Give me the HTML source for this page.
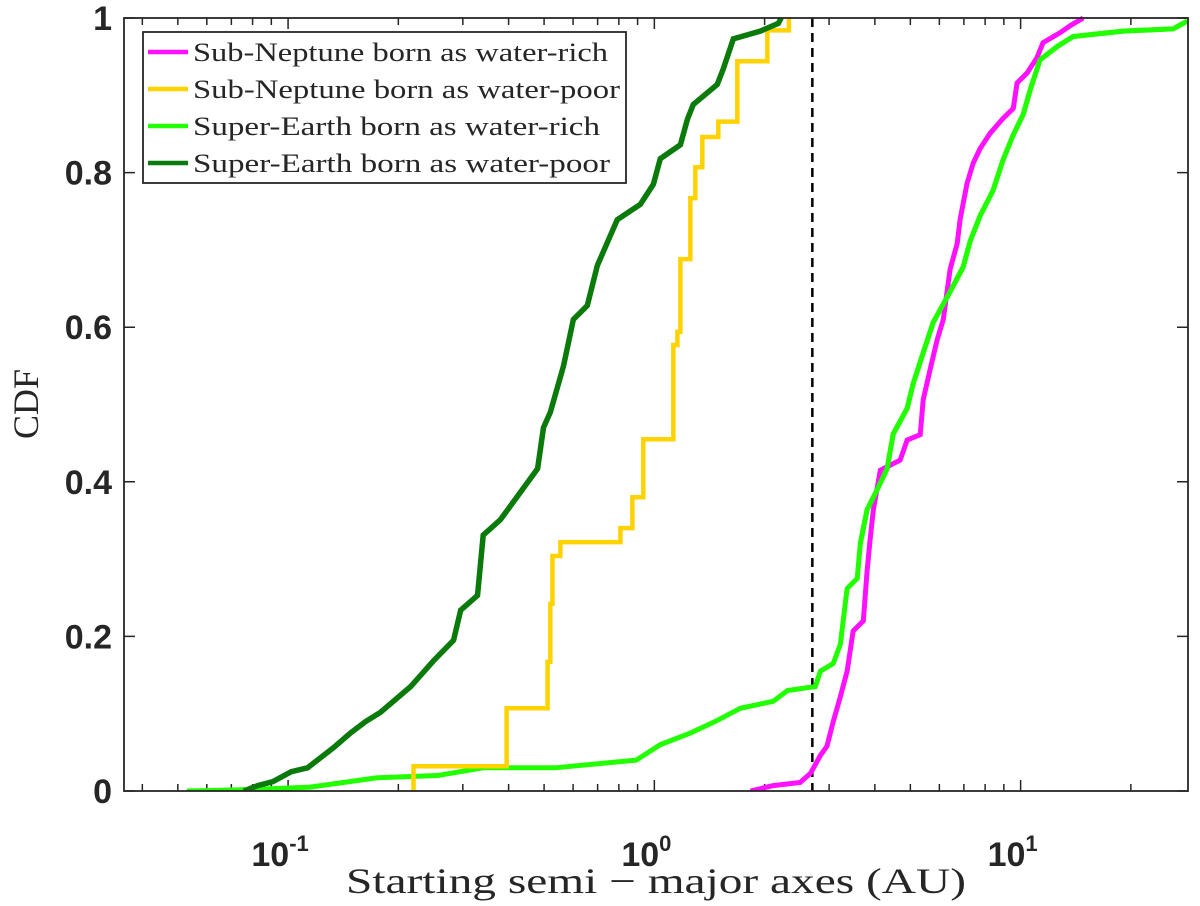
<!DOCTYPE html>
<html><head><meta charset="utf-8"><style>
html,body{margin:0;padding:0;background:#fff;}
svg{display:block;}
.tk{font-family:"Liberation Sans",sans-serif;font-weight:bold;font-size:34px;fill:#262626;}
.serif{font-family:"Liberation Serif",serif;fill:#262626;}
</style></head><body>
<svg id="chart" width="1200" height="906" viewBox="0 0 1200 906">
<g id="plot"></g>
</svg>
<script>
const yTicks=[0,0.2,0.4,0.6,0.8,1];
const yTickLabels=["0","0.2","0.4","0.6","0.8","1"];
const xDecades=[-1,0,1];
const dashX=2.70;
const snRichX=[1.83,2.11,2.50,2.67,2.84,2.96,3.08,3.22,3.36,3.49,3.72,3.81,3.88,3.96,4.14,4.69,4.90,5.32,5.42,5.66,5.92,6.15,6.42,6.71,6.84,7.14,7.42,7.75,8.26,8.95,9.55,9.78,10.42,11.09,11.51,12.82,13.65,14.82];
const snRichY=[0,0.007,0.011,0.023,0.046,0.058,0.09,0.122,0.155,0.207,0.22,0.285,0.324,0.363,0.415,0.428,0.454,0.461,0.506,0.545,0.584,0.61,0.675,0.708,0.74,0.786,0.812,0.831,0.851,0.87,0.883,0.916,0.929,0.949,0.968,0.981,0.99,1.0];
const snPoorX=[0.22,0.395,0.511,0.52,0.527,0.554,0.808,0.871,0.933,1.127,1.156,1.178,1.254,1.294,1.352,1.495,1.685,2.035,2.33];
const snPoorY=[0.032,0.107,0.167,0.242,0.304,0.322,0.34,0.38,0.455,0.577,0.594,0.688,0.767,0.807,0.846,0.866,0.944,0.984,1.0];
const seRichX=[0.0529,0.0805,0.115,0.174,0.256,0.341,0.537,0.893,1.038,1.254,1.467,1.717,2.11,2.31,2.75,2.84,3.08,3.22,3.36,3.58,3.65,3.81,4.06,4.32,4.49,4.90,5.09,5.42,5.77,6.42,6.97,7.28,7.75,8.41,8.95,9.55,10.16,10.62,11.30,12.58,13.91,19.04,26.1,28.5];
const seRichY=[0,0.002,0.005,0.017,0.02,0.03,0.03,0.04,0.06,0.075,0.09,0.107,0.116,0.13,0.135,0.155,0.165,0.19,0.262,0.275,0.32,0.364,0.39,0.417,0.462,0.495,0.527,0.567,0.606,0.646,0.678,0.711,0.744,0.777,0.816,0.849,0.875,0.907,0.946,0.963,0.976,0.983,0.986,0.996];
const sePoorX=[0.0757,0.0826,0.0908,0.102,0.113,0.133,0.148,0.163,0.179,0.216,0.249,0.283,0.296,0.329,0.341,0.380,0.480,0.498,0.520,0.565,0.601,0.656,0.699,0.792,0.916,0.994,1.038,1.178,1.231,1.277,1.485,1.542,1.643,1.946,2.18,2.22];
const sePoorY=[0,0.007,0.012,0.025,0.03,0.056,0.075,0.09,0.102,0.135,0.168,0.195,0.234,0.253,0.331,0.351,0.417,0.47,0.49,0.55,0.61,0.628,0.68,0.739,0.759,0.785,0.818,0.836,0.869,0.888,0.914,0.934,0.973,0.983,0.993,1.0];

const L=124,R=1188,T=18,B=791;
const lxMin=-1.448,lxMax=1.457;
function sx(v){return L+(Math.log10(v)-lxMin)/(lxMax-lxMin)*(R-L);}
function sy(v){return B-v*(B-T);}
const NS="http://www.w3.org/2000/svg";
const g=document.getElementById('plot');
function mk(tag,attrs,parent){const e=document.createElementNS(NS,tag);for(const k in attrs)e.setAttribute(k,attrs[k]);(parent||g).appendChild(e);return e;}

const tg=mk('g',{});


let td='';
for(let d=-2;d<=1;d++){for(let m=1;m<=9;m++){const v=m*Math.pow(10,d);const lv=Math.log10(v);if(lv<lxMin||lv>lxMax)continue;const x=sx(v);const len=m===1?11:7;td+=`M${x},${B}v${-len}M${x},${T}v${len}`;}}
yTicks.forEach(v=>{const y=sy(v);td+=`M${L},${y}h11M${R},${y}h-11`;});
mk('path',{d:td,stroke:'#262626','stroke-width':1.5,fill:'none'},tg);

yTicks.forEach((v,i)=>{const t=mk('text',{x:112,y:sy(v)+12,'text-anchor':'end',class:'tk'});t.textContent=yTickLabels[i];

});
xDecades.forEach(d=>{const x=sx(Math.pow(10,d));const t=mk('text',{x:x-8,y:866,'text-anchor':'middle',class:'tk'});t.textContent='10';const s=mk('tspan',{dy:-15,'font-size':'22px'},t);s.textContent=String(d);

});

const dl=mk('line',{x1:sx(dashX),x2:sx(dashX),y1:T,y2:B,stroke:'#000','stroke-width':2.5,'stroke-dasharray':'9,6'});



function stepPath(xs,ys,x0){let d=`M${sx(x0)},${sy(0)}`;let py=0;xs.forEach((x,i)=>{d+=`L${sx(x)},${sy(py)}L${sx(x)},${sy(ys[i])}`;py=ys[i];});return d;}
function linePath(xs,ys){return xs.map((x,i)=>(i?'L':'M')+sx(x)+','+sy(ys[i])).join('');}
const cs=mk('clipPath',{id:'clip'});mk('rect',{x:L,y:T-3,width:R-L,height:B-T+3},cs);
const pl=mk('path',{d:linePath(seRichX,seRichY),stroke:'#22ff00','stroke-width':5,fill:'none','clip-path':'url(#clip)'});


const p2=mk('path',{d:stepPath(snPoorX,snPoorY,0.22),stroke:'#ffd200','stroke-width':4.5,fill:'none','clip-path':'url(#clip)'});


const p3=mk('path',{d:linePath(sePoorX,sePoorY),stroke:'#0a7a0a','stroke-width':5.5,fill:'none','clip-path':'url(#clip)'});


const p4=mk('path',{d:linePath(snRichX,snRichY),stroke:'#ff10ff','stroke-width':5,fill:'none','clip-path':'url(#clip)'});


const p5=mk('path',{d:linePath(seRichX.slice(20),seRichY.slice(20)),stroke:'#22ff00','stroke-width':5,fill:'none','clip-path':'url(#clip)'});



const bx=mk('rect',{x:L,y:T,width:R-L,height:B-T,fill:'none',stroke:'#262626','stroke-width':1.8});



const lg=mk('g',{});


mk('rect',{x:143,y:32,width:483,height:151,fill:'#fff',stroke:'#262626','stroke-width':1.8},lg);
const legNames=["Sub-Neptune born as water-rich","Sub-Neptune born as water-poor","Super-Earth born as water-rich","Super-Earth born as water-poor"];
const legColors=['#ff10ff','#ffd200','#22ff00','#0a7a0a'];
const legW=[415,427,407,417];
legNames.forEach((n,i)=>{const y=52+i*37;
const e=mk('g',{},lg);


mk('line',{x1:148,x2:188,y1:y,y2:y,stroke:legColors[i],'stroke-width':4.5},e);
const t=mk('text',{x:193,y:y+9,class:'serif','font-size':'26px',textLength:legW[i],lengthAdjust:'spacingAndGlyphs'},e);t.textContent=n;});

const xt=mk('text',{x:656,y:893,'text-anchor':'middle',class:'serif','font-size':'36px',textLength:620,lengthAdjust:'spacingAndGlyphs'});
xt.textContent='Starting semi \u2212 major axes (AU)';


const yt=mk('text',{x:0,y:0,'text-anchor':'middle',class:'serif','font-size':'36px',transform:'translate(38,404) rotate(-90)'});
yt.textContent='CDF';


</script>
</body></html>
